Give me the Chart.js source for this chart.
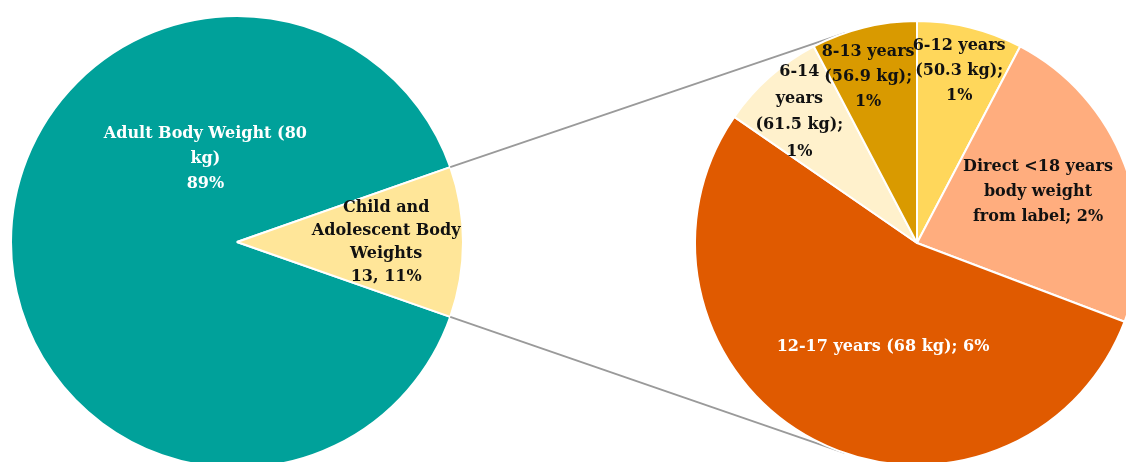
<!DOCTYPE html>
<html>
<head>
<meta charset="utf-8">
<script src="https://cdn.jsdelivr.net/npm/chart.js@4.4.1/dist/chart.umd.min.js"></script>
<style>
  html, body { margin: 0; padding: 0; background: #fff; }
  #wrap { position: relative; width: 1126px; height: 462px; overflow: hidden; }
  #wrap canvas { position: absolute; left: 0; top: 0; }
</style>
</head>
<body>
<div id="wrap">
  <canvas id="mainPie" width="1126" height="486"></canvas>
  <canvas id="subPie" width="1126" height="486"></canvas>
</div>
<script>
// main pie: number of products
const mainLabels = ['Adult Body Weight (80 kg)', 'Child and Adolescent Body Weights'];
const mainValues = [108, 13];
const mainColors = ['#00A19A', '#FFE699'];

// breakdown of the child/adolescent slice
const subLabels = ['6-12 years (50.3 kg)', 'Direct <18 years body weight from label', '12-17 years (68 kg)', '6-14 years (61.5 kg)', '8-13 years (56.9 kg)'];
const subValues = [1, 3, 7, 1, 1];
const subColors = ['#FFD75B', '#FFAD7E', '#E05A00', '#FFF1CC', '#D99A00'];

const total = mainValues.reduce((a, b) => a + b, 0);
const pct = v => Math.round(v / total * 100) + '%';

// label text lines (as shown in the figure)
const mainText = [
  ['Adult Body Weight (80', 'kg)', pct(mainValues[0])],
  ['Child and', 'Adolescent Body', 'Weights', mainValues[1] + ', ' + pct(mainValues[1])]
];
const subText = [
  ['6-12 years', '(50.3 kg);', pct(subValues[0])],
  ['Direct <18 years', 'body weight', 'from label; ' + pct(subValues[1])],
  ['12-17 years (68 kg); ' + pct(subValues[2])],
  ['6-14', 'years', '(61.5 kg);', pct(subValues[3])],
  ['8-13 years', '(56.9 kg);', pct(subValues[4])]
];

// where the labels sit, as fractions of the radius from the pie centre
const mainLabelPos = [[-0.14, -0.37, '#ffffff', 25], [0.66, 0.0, '#111111', 23]];
const subLabelPos = [[0.19, -0.775, '#111111', 25], [0.545, -0.23, '#111111', 25], [-0.153, 0.47, '#ffffff', 25], [-0.53, -0.59, '#111111', 26.5], [-0.22, -0.75, '#111111', 25]];

const labelFont = 'bold 16px "DejaVu Serif"';

function labelPlugin(textArr, posArr) {
  return {
    id: 'sliceLabels',
    afterDatasetsDraw(chart) {
      const ctx = chart.ctx;
      const arcs = chart.getDatasetMeta(0).data;
      ctx.save();
      ctx.font = labelFont;
      ctx.textAlign = 'center';
      ctx.textBaseline = 'middle';
      arcs.forEach((arc, i) => {
        const p = posArr[i];
        const cx = arc.x + p[0] * arc.outerRadius;
        const cy = arc.y + p[1] * arc.outerRadius;
        const lines = textArr[i];
        const lh = p[3];
        ctx.fillStyle = p[2];
        lines.forEach((t, j) => {
          ctx.fillText(t, cx, cy + (j - (lines.length - 1) / 2) * lh);
        });
      });
      ctx.restore();
    }
  };
}

const mainChart = new Chart(document.getElementById('mainPie'), {
  type: 'pie',
  data: {
    labels: mainLabels,
    datasets: [{
      data: mainValues,
      backgroundColor: mainColors,
      borderColor: '#ffffff',
      borderWidth: 2,
      radius: 226
    }]
  },
  options: {
    responsive: false,
    animation: false,
    // small slice centred on 3 o'clock
    rotation: 90 + 180 * mainValues[1] / total,
    layout: { padding: { left: 0, right: 1126 - 474, top: 0, bottom: 2 } },
    plugins: { legend: { display: false }, tooltip: { enabled: false } }
  },
  plugins: [labelPlugin(mainText, mainLabelPos)]
});

// connector lines from the small slice of the main pie to tangents of the sub pie
const connectorPlugin = {
  id: 'connectors',
  beforeDatasetsDraw(chart) {
    const small = mainChart.getDatasetMeta(0).data[1];
    const sub = chart.getDatasetMeta(0).data[0];
    const C = { x: sub.x, y: sub.y };
    const r = sub.outerRadius;
    const ctx = chart.ctx;
    ctx.save();
    ctx.strokeStyle = '#9a9a9a';
    ctx.lineWidth = 1.8;
    [[small.startAngle, 1], [small.endAngle, -1]].forEach(([a, side]) => {
      const P = { x: small.x + small.outerRadius * Math.cos(a), y: small.y + small.outerRadius * Math.sin(a) };
      const dx = P.x - C.x, dy = P.y - C.y;
      const d = Math.hypot(dx, dy);
      const base = Math.atan2(dy, dx);
      const t = base + side * Math.acos(r / d);
      ctx.beginPath();
      ctx.moveTo(P.x, P.y);
      ctx.lineTo(C.x + r * Math.cos(t), C.y + r * Math.sin(t));
      ctx.stroke();
    });
    ctx.restore();
  }
};

new Chart(document.getElementById('subPie'), {
  type: 'pie',
  data: {
    labels: subLabels,
    datasets: [{
      data: subValues,
      backgroundColor: subColors,
      borderColor: '#ffffff',
      borderWidth: 2,
      radius: 222
    }]
  },
  options: {
    responsive: false,
    animation: false,
    layout: { padding: { left: 708, right: 0, top: 0, bottom: 0 } },
    plugins: { legend: { display: false }, tooltip: { enabled: false } }
  },
  plugins: [connectorPlugin, labelPlugin(subText, subLabelPos)]
});
</script>
</body>
</html>
